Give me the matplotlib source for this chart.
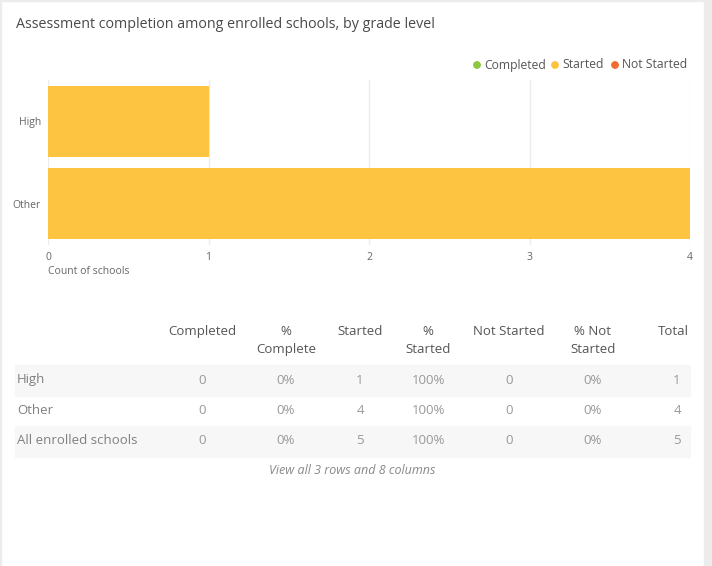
import matplotlib.pyplot as plt
from matplotlib.patches import Rectangle, Circle

plt.rcParams['font.family'] = ['Open Sans', 'DejaVu Sans']

# chart data
grades = ['High', 'Other']
completed = [0, 0]
started = [1, 4]
not_started = [0, 0]

# table data
col_labels = ['Completed', '%\nComplete', 'Started', '%\nStarted', 'Not Started', '% Not\nStarted', 'Total']
row_labels = ['High', 'Other', 'All enrolled schools']
table_rows = [
    ['0', '0%', '1', '100%', '0', '0%', '1'],
    ['0', '0%', '4', '100%', '0', '0%', '4'],
    ['0', '0%', '5', '100%', '0', '0%', '5'],
]

legend_names = ['Completed', 'Started', 'Not Started']
colors = ['#8dc63f', '#fcc440', '#f26b2f']

W, H = 712, 566
fig = plt.figure(figsize=(W / 100, H / 100), dpi=100)
fig.patch.set_facecolor('white')

def px(x, y):
    return x / W, 1 - y / H

# card borders
fig.patches.append(Rectangle((0, 0), 1.2 / W, 1, transform=fig.transFigure, color='#ececec', zorder=0))
fig.patches.append(Rectangle((0, 1 - 1.2 / H), 1, 1.2 / H, transform=fig.transFigure, color='#ececec', zorder=0))
fig.patches.append(Rectangle((704 / W, 0), 8 / W, 1, transform=fig.transFigure, color='#ececec', zorder=0))

fig.text(*px(16, 25), 'Assessment completion among enrolled schools, by grade level',
         fontsize=10.3, color='#4a4a4a', va='center', ha='left')

# legend
lx = [477, 555, 615]
for x, name, c in zip(lx, legend_names, colors):
    fig.patches.append(Circle((x / 100, (H - 65) / 100), 0.032, transform=fig.dpi_scale_trans, color=c))
    fig.text(*px(x + 7, 65), name, fontsize=8.7, color='#555555', va='center', ha='left')

# bar chart
ax = fig.add_axes([48 / W, (H - 245) / H, (690 - 48) / W, 165 / H])
y = range(len(grades))
ax.barh(y, completed, height=0.866, color=colors[0])
ax.barh(y, started, left=completed, height=0.866, color=colors[1])
ax.barh(y, not_started, left=[a + b for a, b in zip(completed, started)], height=0.866, color=colors[2])
ax.set_xlim(0, 4)
ax.set_ylim(1.5, -0.5)
ax.set_xticks([0, 1, 2, 3, 4])
ax.set_yticks(list(y))
ax.set_yticklabels(grades)
ax.grid(axis='x', color='#ececec', linewidth=1)
ax.set_axisbelow(True)
for s in ax.spines.values():
    s.set_visible(False)
ax.tick_params(axis='x', length=0, labelsize=7.5, labelcolor='#666666', pad=5)
ax.tick_params(axis='y', length=0, labelsize=7.5, labelcolor='#666666', pad=5)
fig.text(*px(48, 272), 'Count of schools', fontsize=7.5, color='#666666', va='center', ha='left')

# table
col_x = [202, 286, 360, 428, 509, 593, 673]
val_x = [202, 286, 360, 428, 509, 593, 677]
for x, lab in zip(col_x, col_labels):
    fig.text(*px(x, 325), lab, fontsize=9.5, color='#555555', va='top', ha='center', linespacing=1.5)

row_y = [380, 410, 441]
for i, (ry, lab, vals) in enumerate(zip(row_y, row_labels, table_rows)):
    if i % 2 == 0:
        fig.patches.append(Rectangle(px(15, ry + 15.5), (690 - 15) / W, 31 / H,
                                     transform=fig.transFigure, color='#f7f7f7', zorder=0))
    fig.text(*px(17, ry), lab, fontsize=9.5, color='#808080', va='center', ha='left')
    for x, v in zip(val_x, vals):
        fig.text(*px(x, ry), v, fontsize=9.5, color='#999999', va='center', ha='center')

fig.text(*px(352, 471), 'View all 3 rows and 8 columns', fontsize=9, color='#888888',
         style='italic', va='center', ha='center')

fig.savefig('out.png', dpi=100)
